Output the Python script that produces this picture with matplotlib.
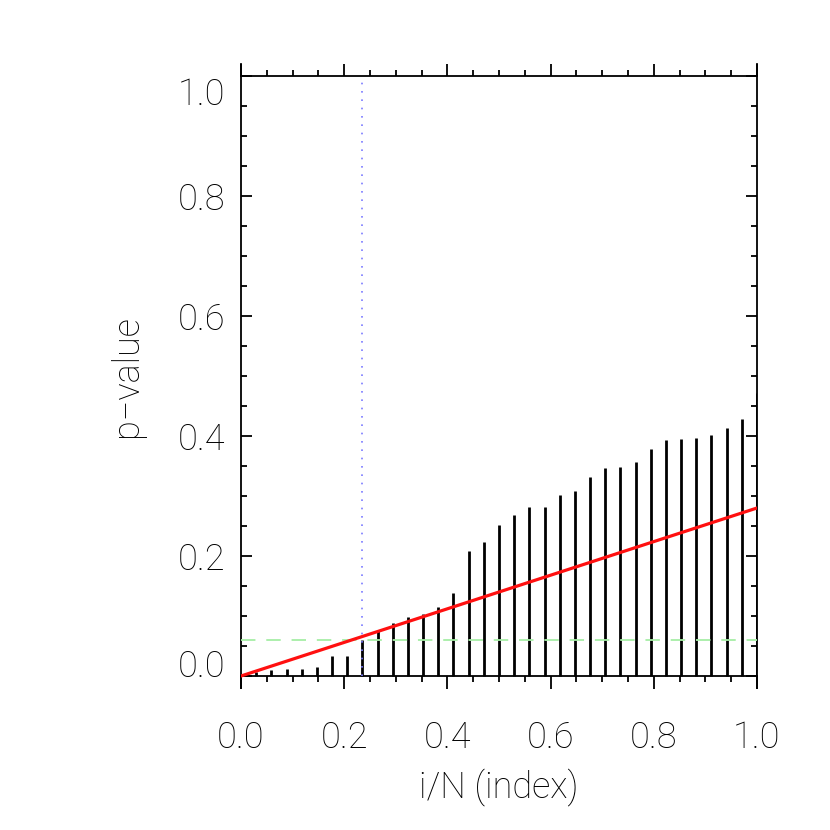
import numpy as np
import matplotlib
matplotlib.use('Agg')
import matplotlib.pyplot as plt
import matplotlib.transforms as mtransforms
from matplotlib.ticker import MultipleLocator, FormatStrFormatter

# sorted p-values, one per test (N = 34)
p_values = [0.006, 0.0095, 0.011, 0.011, 0.015, 0.034, 0.034, 0.060,
            0.076, 0.088, 0.099, 0.103, 0.115, 0.138, 0.208, 0.224,
            0.251, 0.268, 0.281, 0.281, 0.301, 0.309, 0.331, 0.346,
            0.348, 0.357, 0.378, 0.393, 0.395, 0.396, 0.401, 0.413,
            0.429, 0.471]
line_slope = 0.28      # red line p = slope * i/N
alpha_level = 0.06     # green dashed threshold
cut_index = 8          # dotted vertical line at i = 8

n = len(p_values)
x = np.arange(1, n + 1) / n
x_line = np.concatenate([[0.0], x])

plt.rcParams['font.family'] = ['Roboto', 'DejaVu Sans']
plt.rcParams['font.weight'] = 'light'
plt.rcParams['axes.labelweight'] = 'light'

fig = plt.figure(figsize=(8.3, 8.3), dpi=100)
ax = fig.add_axes([241 / 830, (830 - 688) / 830, 516 / 830, 624 / 830])

ax.vlines(x, 0, p_values, color='black', lw=2, zorder=2)
ax.axhline(alpha_level, color='#a6eea6', lw=1.3, dashes=(8, 6), zorder=3)
ax.plot(x_line, line_slope * x_line, color='#ff1010', lw=2.3, zorder=4)
ax.vlines(x[cut_index - 1], 0, 1, color='#7a7aff', lw=1.2,
          linestyles=(0, (1, 4)), zorder=5)

ax.set_xlim(0, 1)
ax.set_ylim(-0.02, 1.02)

# horizontal axes drawn at p = 0 and p = 1
ax.spines['bottom'].set_position(('data', 0))
ax.spines['top'].set_position(('data', 1))
for s in ax.spines.values():
    s.set_linewidth(1.3)

ax.set_xticks(np.arange(0, 1.01, 0.2))
ax.set_yticks(np.arange(0, 1.01, 0.2))
ax.xaxis.set_minor_locator(MultipleLocator(0.05))
ax.yaxis.set_minor_locator(MultipleLocator(0.05))

ax.tick_params(axis='x', which='both', direction='out', top=True, bottom=True,
               labeltop=False, width=1.3)
ax.tick_params(axis='x', which='major', length=9, pad=23)
ax.tick_params(axis='x', which='minor', length=4.5)
ax.tick_params(axis='y', which='both', direction='in', left=True, right=True,
               width=1.3)
ax.tick_params(axis='y', which='major', length=8, pad=11)
ax.tick_params(axis='y', which='minor', length=4)
ax.tick_params(labelsize=26, labelcolor='black')

ax.xaxis.set_major_formatter(FormatStrFormatter('%.1f'))
ax.yaxis.set_major_formatter(FormatStrFormatter('%.1f'))

# end labels on the y axis sit slightly inside the frame
yt = ax.yaxis.get_major_ticks()
yt[0].label1.set_transform(yt[0].label1.get_transform() +
                           mtransforms.ScaledTranslation(0, 13 / 100, fig.dpi_scale_trans))
yt[-1].label1.set_transform(yt[-1].label1.get_transform() +
                            mtransforms.ScaledTranslation(0, -15 / 100, fig.dpi_scale_trans))

ax.set_xlabel('i/N (index)', fontsize=26, labelpad=8)
ax.set_ylabel('p\u2212value', fontsize=26, labelpad=24)

fig.savefig('out.png', dpi=100)
